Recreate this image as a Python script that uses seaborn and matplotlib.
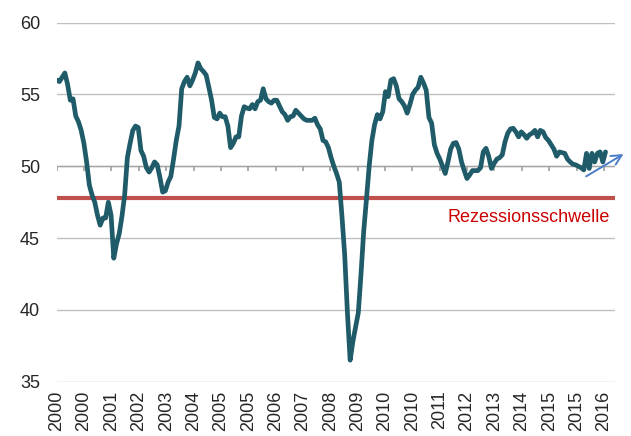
import matplotlib
matplotlib.use("Agg")
import matplotlib.pyplot as plt
import seaborn as sns
import numpy as np
import pandas as pd

# monthly index values, Jan 2000 onwards
values = [
    56.0, 55.9, 56.2, 56.5, 55.7, 54.6, 54.7, 53.5, 53.1, 52.5, 51.6, 50.3,
    48.7, 48.0, 47.5, 46.6, 45.9, 46.4, 46.4, 47.5, 46.6, 43.6, 44.6, 45.3,
    46.5, 48.0, 50.6, 51.6, 52.5, 52.8, 52.7, 51.1, 50.7, 49.9, 49.6, 49.9,
    50.3, 50.1, 49.2, 48.2, 48.3, 48.9, 49.3, 50.5, 51.8, 52.8, 55.4, 55.9,
    56.2, 55.6, 56.0, 56.5, 57.2, 56.8, 56.6, 56.35, 55.5, 54.6, 53.4, 53.3,
    53.7, 53.45, 53.45, 52.8, 51.3, 51.6, 52.05, 52.05, 53.5, 54.15, 54.05, 54.0,
    54.3, 54.0, 54.5, 54.6, 55.4, 54.7, 54.5, 54.4, 54.6, 54.6, 54.2, 53.8,
    53.6, 53.2, 53.45, 53.5, 53.9, 53.7, 53.5, 53.3, 53.2, 53.2, 53.2, 53.35,
    52.9, 52.6, 51.8, 51.7, 51.3, 50.6, 50.0, 49.5, 48.9, 46.5, 43.8, 39.8,
    36.5, 37.8, 38.8, 39.8, 42.5, 45.5, 47.7, 50.0, 51.8, 52.9, 53.6, 53.3,
    53.8, 55.2, 54.85, 56.0, 56.1, 55.6, 54.7, 54.5, 54.2, 53.7, 54.3, 55.0,
    55.3, 55.5, 56.2, 55.8, 55.3, 53.4, 53.0, 51.5, 50.9, 50.5, 50.0, 49.5,
    50.3, 51.2, 51.6, 51.65, 51.2, 50.3, 49.7, 49.15, 49.4, 49.7, 49.7, 49.7,
    49.9, 51.0, 51.25, 50.7, 49.85, 50.2, 50.5, 50.6, 50.8, 51.7, 52.3, 52.6,
    52.65, 52.4, 52.05, 52.4, 52.2, 51.95, 52.2, 52.3, 52.5, 52.05, 52.5, 52.4,
    52.0, 51.8, 51.5, 51.2, 50.7, 51.0, 50.95, 50.9, 50.5, 50.3, 50.15, 50.1,
    50.0, 49.9, 49.75, 50.9, 49.85, 50.9, 50.3, 50.9, 51.0, 50.3, 51.0,
]

tick_labels = [
    "2000", "2000", "2001", "2002", "2003", "2004", "2005", "2005", "2006",
    "2007", "2008", "2009", "2010", "2010", "2011", "2012", "2013", "2014",
    "2015", "2015", "2016",
]

recession_level = 47.8
recession_label = "Rezessionsschwelle"
axis_cross = 50

df = pd.DataFrame({"month": np.arange(len(values)), "value": values})

sns.set_style("white")
plt.rcParams["font.family"] = ["Liberation Sans", "DejaVu Sans"]

fig = plt.figure(figsize=(6.31, 4.36), dpi=100)
ax = fig.add_axes([0.0899, 0.1235, 0.8848, 0.8245])

ax.set_ylim(34.97, 60)
ax.set_xlim(0, 205.5)
ax.set_yticks([35, 40, 45, 50, 55, 60])
ax.yaxis.grid(True, color="#BFBFBF", lw=1.0)
ax.set_axisbelow(True)

step = 10.07
ticks = np.arange(len(tick_labels)) * step

# category axis line crossing at 50, tick marks hanging below it
ax.axhline(axis_cross, color="#A6A6A6", lw=1.0, zorder=1)
ax.vlines(ticks, axis_cross - 0.33, axis_cross, color="#A0A0A0", lw=1.2,
          zorder=1)

ax.axhline(recession_level, color="#C0504D", lw=3.0, zorder=2)

sns.lineplot(data=df, x="month", y="value", ax=ax, color="#1F5B69",
             lw=3.4, zorder=3)

for s in ["top", "right", "left", "bottom"]:
    ax.spines[s].set_visible(False)

ax.set_xticks(ticks)
ax.set_xticklabels(tick_labels, rotation=90, fontsize=13)
ax.tick_params(axis="x", bottom=False, length=0, pad=6)
ax.tick_params(axis="y", left=False, length=0, pad=12, labelsize=13)
ax.set_xlabel("")
ax.set_ylabel("")

ax.text(203.5, 46.4, recession_label, color="#CC0000", fontsize=13,
        ha="right", va="center")

ax.annotate("", xy=(209.5, 50.95), xytext=(194.0, 49.2),
            arrowprops=dict(arrowstyle="->", color="#4A7EC8", lw=1.4,
                            mutation_scale=18),
            annotation_clip=False)

plt.savefig("out.png", dpi=100)
